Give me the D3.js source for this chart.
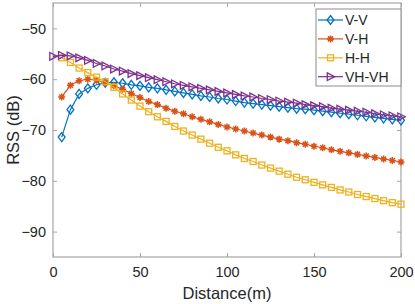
<!DOCTYPE html>
<html>
<head>
<meta charset="utf-8">
<script src="https://cdn.jsdelivr.net/npm/d3@7"></script>
<style>
  body { margin: 0; background: #fff; }
  svg { display: block; font-family: "Liberation Sans", Arial, sans-serif; }
</style>
</head>
<body>
<div id="chart"></div>
<script>
// distances (m)
const distFrom5 = d3.range(5, 201, 5);
const distFrom0 = d3.range(0, 201, 5);

// RSS values (dB)
const vvValues = [-71.4, -66.0, -62.9, -61.8, -61.1, -60.7, -60.6, -60.8, -61.1, -61.3,
  -61.6, -61.8, -62.1, -62.4, -62.7, -63.0, -63.3, -63.5, -63.8, -64.0,
  -64.3, -64.6, -64.8, -65.0, -65.2, -65.4, -65.6, -65.8, -65.9, -66.1,
  -66.3, -66.5, -66.7, -66.9, -67.1, -67.3, -67.5, -67.7, -67.9, -68.1];
const vhValues = [-63.5, -61.2, -60.3, -60.0, -60.2, -60.7, -61.3, -62.0, -62.8, -63.6,
  -64.4, -65.0, -65.7, -66.3, -66.8, -67.4, -67.9, -68.4, -68.9, -69.4,
  -69.8, -70.2, -70.6, -71.0, -71.4, -71.8, -72.1, -72.5, -72.8, -73.2,
  -73.5, -73.9, -74.2, -74.5, -74.8, -75.1, -75.4, -75.7, -76.0, -76.3];
const hhValues = [-55.8, -56.7, -57.8, -58.7, -59.6, -60.5, -61.6, -62.9, -64.1, -65.3,
  -66.4, -67.4, -68.3, -69.3, -70.2, -71.0, -71.8, -72.6, -73.4, -74.1,
  -74.9, -75.6, -76.2, -76.9, -77.5, -78.1, -78.7, -79.3, -79.8, -80.3,
  -80.8, -81.3, -81.8, -82.2, -82.7, -83.1, -83.5, -83.9, -84.3, -84.6];
const vhvhValues = [-55.5, -55.3, -55.4, -55.8, -56.3, -56.9, -57.4, -58.0, -58.4, -58.9,
  -59.3, -59.7, -60.1, -60.5, -60.9, -61.2, -61.5, -61.8, -62.1, -62.4,
  -62.7, -63.0, -63.3, -63.5, -63.8, -64.0, -64.3, -64.5, -64.7, -65.0,
  -65.2, -65.4, -65.7, -65.9, -66.1, -66.3, -66.5, -66.8, -67.0, -67.2, -67.4];

const xTicks = [0, 50, 100, 150, 200];
const yTicks = [-90, -80, -70, -60, -50];

const seriesList = [
  {name: 'V-V', x: distFrom5, y: vvValues, color: '#0072BD', marker: 'diamond'},
  {name: 'V-H', x: distFrom5, y: vhValues, color: '#D95319', marker: 'asterisk'},
  {name: 'H-H', x: distFrom5, y: hhValues, color: '#EDB120', marker: 'square'},
  {name: 'VH-VH', x: distFrom0, y: vhvhValues, color: '#7E2F8E', marker: 'triangle'}
];

const dimensions = {
  width: 415,
  height: 304,
  margin: {top: 3, right: 14, bottom: 47, left: 53}
};
dimensions.boundWidth = dimensions.width - dimensions.margin.left - dimensions.margin.right;
dimensions.boundHeight = dimensions.height - dimensions.margin.top - dimensions.margin.bottom;

const svg = d3.select('#chart')
  .append('svg')
  .attr('width', dimensions.width)
  .attr('height', dimensions.height);

const bounds = svg.append('g')
  .attr('transform', `translate(${dimensions.margin.left},${dimensions.margin.top})`);

const xScale = d3.scaleLinear().domain([0, 200]).range([0, dimensions.boundWidth]);
const yScale = d3.scaleLinear().domain([-95, -45]).range([dimensions.boundHeight, 0]);

const axisColor = '#a6a6a6';
const textColor = '#262626';

// 坐标轴（刻度朝内，四边都有）
const styleAxis = g => {
  g.select('.domain').remove();
  g.selectAll('.tick line').attr('stroke', axisColor).attr('stroke-width', 1);
  g.selectAll('.tick text').attr('fill', textColor).style('font-size', '14.5px');
};

bounds.append('g')
  .attr('transform', `translate(0,${dimensions.boundHeight})`)
  .call(d3.axisBottom(xScale).tickValues(xTicks).tickSize(-4).tickPadding(10))
  .call(styleAxis);
bounds.append('g')
  .call(d3.axisTop(xScale).tickValues(xTicks).tickSize(-4).tickFormat(''))
  .call(styleAxis);
bounds.append('g')
  .call(d3.axisLeft(yScale).tickValues(yTicks).tickSize(-4).tickPadding(7))
  .call(styleAxis);
bounds.append('g')
  .attr('transform', `translate(${dimensions.boundWidth},0)`)
  .call(d3.axisRight(yScale).tickValues(yTicks).tickSize(-4).tickFormat(''))
  .call(styleAxis);

bounds.append('rect')
  .attr('width', dimensions.boundWidth)
  .attr('height', dimensions.boundHeight)
  .attr('fill', 'none')
  .attr('stroke', axisColor)
  .attr('stroke-width', 1.2);

// 轴标题
svg.append('text')
  .attr('x', dimensions.margin.left + dimensions.boundWidth / 2)
  .attr('y', 299)
  .attr('text-anchor', 'middle')
  .attr('fill', textColor)
  .style('font-size', '16.5px')
  .text('Distance(m)');

svg.append('text')
  .attr('transform', `translate(19,${dimensions.margin.top + dimensions.boundHeight / 2}) rotate(-90)`)
  .attr('text-anchor', 'middle')
  .attr('fill', textColor)
  .style('font-size', '16.5px')
  .text('RSS (dB)');

// 标记
const drawMarker = (g, type, color) => {
  if (type === 'diamond') {
    g.append('path').attr('d', 'M0,-4.5L3.4,0L0,4.5L-3.4,0Z')
      .attr('fill', 'none').attr('stroke', color).attr('stroke-width', 1.3);
  } else if (type === 'square') {
    g.append('rect').attr('x', -3).attr('y', -3).attr('width', 6).attr('height', 6)
      .attr('fill', 'none').attr('stroke', color).attr('stroke-width', 1.3);
  } else if (type === 'triangle') {
    g.append('path').attr('d', 'M-3.2,-3.8L4.2,0L-3.2,3.8Z')
      .attr('fill', 'none').attr('stroke', color).attr('stroke-width', 1.3);
  } else {
    g.append('path').attr('d', 'M0,-3.5V3.5M-3.5,0H3.5M-2.5,-2.5L2.5,2.5M-2.5,2.5L2.5,-2.5')
      .attr('fill', 'none').attr('stroke', color).attr('stroke-width', 1.5);
  }
};

const lineGen = d3.line()
  .x(d => xScale(d[0]))
  .y(d => yScale(d[1]));

const plotArea = bounds.append('g');
seriesList.forEach(s => {
  const points = s.x.map((x, i) => [x, s.y[i]]);
  plotArea.append('path')
    .datum(points)
    .attr('d', lineGen)
    .attr('fill', 'none')
    .attr('stroke', s.color)
    .attr('stroke-width', 1.2);
  plotArea.selectAll(null)
    .data(points)
    .join('g')
    .attr('transform', d => `translate(${xScale(d[0])},${yScale(d[1])})`)
    .each(function () { drawMarker(d3.select(this), s.marker, s.color); });
});

// 图例
const legend = svg.append('g').attr('transform', 'translate(316,9)');
legend.append('rect')
  .attr('width', 85)
  .attr('height', 77)
  .attr('fill', '#fff')
  .attr('stroke', '#8c8c8c')
  .attr('stroke-width', 1);

seriesList.forEach((s, i) => {
  const row = legend.append('g').attr('transform', `translate(0,${11 + i * 18.9})`);
  row.append('line')
    .attr('x1', 2).attr('x2', 27)
    .attr('stroke', s.color).attr('stroke-width', 1.2);
  drawMarker(row.append('g').attr('transform', 'translate(14.5,0)'), s.marker, s.color);
  row.append('text')
    .attr('x', 29)
    .attr('dy', '0.35em')
    .attr('fill', textColor)
    .style('font-size', '14px')
    .text(s.name);
});
</script>
</body>
</html>
